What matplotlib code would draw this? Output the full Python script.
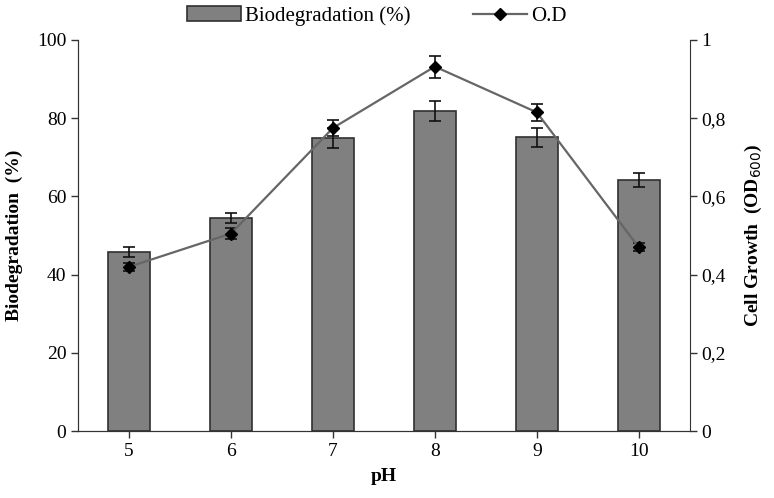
import matplotlib
matplotlib.use("Agg")
import matplotlib.pyplot as plt
from matplotlib.ticker import FuncFormatter

ph_labels = ["5", "6", "7", "8", "9", "10"]
biodeg = [45.8, 54.4, 74.9, 81.8, 75.1, 64.3]
biodeg_err = [1.3, 1.3, 2.5, 2.5, 2.4, 1.8]
od = [0.42, 0.505, 0.775, 0.932, 0.815, 0.47]
od_err = [0.01, 0.015, 0.02, 0.028, 0.022, 0.01]

plt.rcParams["font.family"] = ["Liberation Serif", "DejaVu Serif"]


def od_fmt(v, pos):
    if abs(v) < 1e-9:
        return "0"
    if abs(v - 1) < 1e-9:
        return "1"
    return f"{v:.1f}".replace(".", ",")


fig = plt.figure(figsize=(7.74, 4.98), dpi=100)
ax = fig.add_axes([0.101, 0.1345, 0.790, 0.7852])
x = list(range(len(ph_labels)))

bars = ax.bar(x, biodeg, width=0.41, color="#808080", edgecolor="#303030",
              linewidth=1.2, yerr=biodeg_err, capsize=4,
              error_kw={"elinewidth": 1.2, "capthick": 1.2, "ecolor": "#111111"},
              zorder=2)
ax.set_xlim(-0.5, len(ph_labels) - 0.5)
ax.set_ylim(0, 100)
ax.set_yticks([0, 20, 40, 60, 80, 100])
ax.set_xticks(x)
ax.set_xticklabels(ph_labels)
ax.tick_params(axis="both", labelsize=14, direction="out", length=5, width=1, color="#333333")
ax.set_xlabel("pH", fontsize=14, fontweight="bold", labelpad=6)
ax.set_ylabel("Biodegradation  (%)", fontsize=14, fontweight="bold", labelpad=10)
for side in ["left", "bottom"]:
    ax.spines[side].set_color("#333333")
ax.spines["top"].set_visible(False)
ax.spines["right"].set_visible(False)

ax2 = ax.twinx()
ax2.errorbar(x, od, yerr=od_err, fmt="none", ecolor="#111111", elinewidth=1.2,
             capsize=4, capthick=1.2, zorder=3)
line, = ax2.plot(x, od, color="#666666", linewidth=1.6, marker="D", markersize=6,
                 markerfacecolor="black", markeredgecolor="black", zorder=4)
ax2.set_ylim(0, 1)
ax2.set_yticks([0, 0.2, 0.4, 0.6, 0.8, 1.0])
ax2.yaxis.set_major_formatter(FuncFormatter(od_fmt))
ax2.tick_params(axis="y", labelsize=14, direction="out", length=5, width=1, color="#333333")
ax2.set_ylabel("Cell Growth  (OD$_{600}$)", fontsize=14, fontweight="bold", labelpad=12)
ax2.spines["top"].set_visible(False)
for side in ["right", "left", "bottom"]:
    ax2.spines[side].set_color("#333333")

fig.legend([bars, line], ["Biodegradation (%)", "O.D"], loc="upper center",
           bbox_to_anchor=(0.487, 1.025), ncol=2, frameon=False, fontsize=15,
           handlelength=2.6, columnspacing=3.0, handletextpad=0.2)

fig.savefig("out.png", dpi=100)
